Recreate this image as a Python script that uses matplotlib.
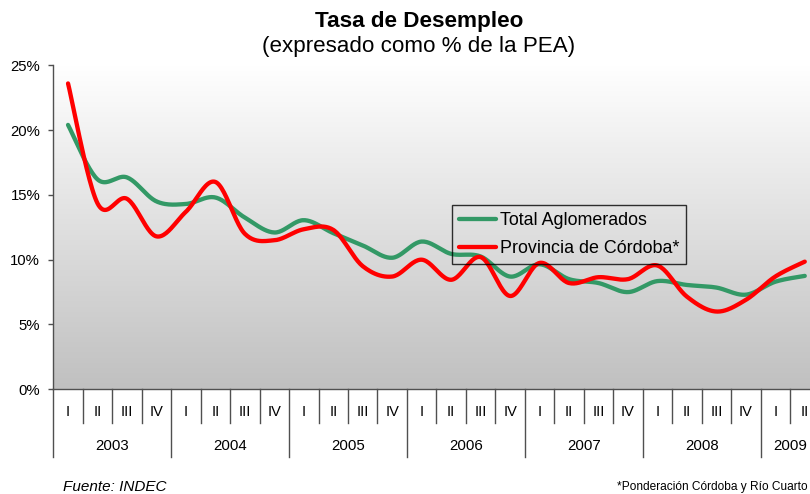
import numpy as np
import matplotlib
matplotlib.use("Agg")
import matplotlib.pyplot as plt
from matplotlib.colors import LinearSegmentedColormap
from matplotlib import font_manager

# ---------------- data ----------------
quarter_labels = ["I", "II", "III", "IV"] * 6 + ["I", "II"]
year_labels = ["2003", "2004", "2005", "2006", "2007", "2008", "2009"]
quarters_per_year = [4, 4, 4, 4, 4, 4, 2]

total_aglomerados = [20.4, 16.2, 16.35, 14.5, 14.3, 14.8, 13.25, 12.1, 13.05, 12.05,
                     11.1, 10.15, 11.4, 10.45, 10.25, 8.7, 9.65, 8.5, 8.2, 7.5,
                     8.35, 8.05, 7.85, 7.3, 8.3, 8.75]
provincia_cordoba = [23.6, 14.35, 14.7, 11.8, 13.7, 16.0, 12.0, 11.5, 12.35, 12.3,
                     9.5, 8.7, 10.0, 8.45, 10.2, 7.2, 9.75, 8.2, 8.65, 8.5,
                     9.55, 7.15, 6.0, 6.9, 8.7, 9.85]
series_names = ["Total Aglomerados", "Provincia de Córdoba*"]
y_ticks = [0, 5, 10, 15, 20, 25]

# ---------------- style ----------------
FONT = "Liberation Sans"
available = {f.name for f in font_manager.fontManager.ttflist}
NARROW = "Liberation Sans Narrow" if "Liberation Sans Narrow" in available else FONT
plt.rcParams["font.family"] = [FONT, "DejaVu Sans"]

GREEN = "#339966"
RED = "#ff0000"
AXIS = "#505050"

W, H = 810, 494
fig = plt.figure(figsize=(W / 100, H / 100), dpi=100)
fig.patch.set_facecolor("white")

left_px, right_px, top_px, bottom_px = 53.3, 819.5, 65.3, 389.3
ax = fig.add_axes([left_px / W, 1 - bottom_px / H,
                   (right_px - left_px) / W, (bottom_px - top_px) / H])
ax.set_facecolor("none")

# gradient background of plot area
cmap = LinearSegmentedColormap.from_list("bg", ["#c0c0c0", "#ffffff"])
grad = np.linspace(0, 1, 256)[:, None]
ax.imshow(grad, extent=[0, 1, 0, 1], transform=ax.transAxes, origin="lower",
          aspect="auto", cmap=cmap, zorder=0)


def smooth(vals, n=24):
    """Bezier (Catmull-Rom style) smoothing like a spreadsheet 'smoothed line'."""
    p = np.column_stack([np.arange(len(vals), dtype=float), np.asarray(vals, float)])
    pts = np.vstack([p[0], p, p[-1]])
    out = []
    t = np.linspace(0, 1, n, endpoint=False)[:, None]
    for i in range(1, len(pts) - 2):
        p0, p1, p2, p3 = pts[i - 1], pts[i], pts[i + 1], pts[i + 2]
        c1 = p1 + (p2 - p0) / 6.0
        c2 = p2 - (p3 - p1) / 6.0
        seg = ((1 - t) ** 3) * p1 + 3 * ((1 - t) ** 2) * t * c1 + 3 * (1 - t) * t ** 2 * c2 + t ** 3 * p2
        out.append(seg)
    out.append(p[-1][None, :])
    out = np.vstack(out)
    return out[:, 0], out[:, 1]


for vals, color, name in [(total_aglomerados, GREEN, series_names[0]),
                          (provincia_cordoba, RED, series_names[1])]:
    xs, ys = smooth(vals)
    ax.plot(xs, ys, color=color, lw=3.1, label=name, solid_capstyle="round",
            solid_joinstyle="round", zorder=3)

n = len(quarter_labels)
ax.set_xlim(-0.5, n - 0.5)
ax.set_ylim(0, 25)

# spines
for s in ["top", "right"]:
    ax.spines[s].set_visible(False)
for s in ["left", "bottom"]:
    ax.spines[s].set_color(AXIS)
    ax.spines[s].set_linewidth(1.0)
    ax.spines[s].set_zorder(4)

ax.set_yticks(y_ticks)
ax.set_yticklabels([f"{v}%" for v in y_ticks], fontsize=10.7, color="black")
ax.tick_params(axis="y", direction="out", length=3.6, width=1.0, color=AXIS, pad=5.8)
ax.set_xticks([])

# multi-level category axis
ah = bottom_px - top_px
trans = ax.get_xaxis_transform()
q_len = -34.0 / ah
y_len = -67.4 / ah
year_bounds = set(np.cumsum([0] + quarters_per_year).tolist())
for k in range(n + 1):
    yl = y_len if k in year_bounds else q_len
    ax.plot([k - 0.5, k - 0.5], [0, yl], transform=trans, color=AXIS, lw=1.0,
            clip_on=False, zorder=4)
for i, q in enumerate(quarter_labels):
    ax.text(i, -22.4 / ah, q, transform=trans, ha="center", va="center",
            fontsize=10.5, family=[NARROW, "DejaVu Sans"], clip_on=False)
start = 0
for yr, cnt in zip(year_labels, quarters_per_year):
    ax.text(start + (cnt - 1) / 2.0, -56.5 / ah, yr, transform=trans, ha="center",
            va="center", fontsize=10.8, clip_on=False)
    start += cnt

# legend
leg = ax.legend(loc="upper left", bbox_to_anchor=(451.7 / W, 1 - 205 / H),
                bbox_transform=fig.transFigure, borderaxespad=0, fontsize=12.9,
                frameon=True, fancybox=False, handlelength=2.05, handletextpad=0.22,
                borderpad=0.4, labelspacing=0.62)
leg.get_frame().set_facecolor("none")
leg.get_frame().set_edgecolor("black")
leg.get_frame().set_linewidth(1.0)
leg.set_zorder(5)
for line in leg.get_lines():
    line.set_linewidth(3.1)

# titles
fig.text(419 / W, 1 - 22 / H, "Tasa de Desempleo", ha="center", va="center",
         fontsize=16.2, fontweight="bold")
fig.text(419 / W, 1 - 46.7 / H, "(expresado como % de la PEA)", ha="center",
         va="center", fontsize=16.1)

# footers
fig.text(63 / W, 1 - 487 / H, "Fuente: INDEC", ha="left", va="center",
         fontsize=11, style="italic")
fig.text(808 / W, 1 - 487 / H, "*Ponderación Córdoba y Río Cuarto", ha="right",
         va="center", fontsize=8.6)

fig.savefig("out.png", dpi=100)
